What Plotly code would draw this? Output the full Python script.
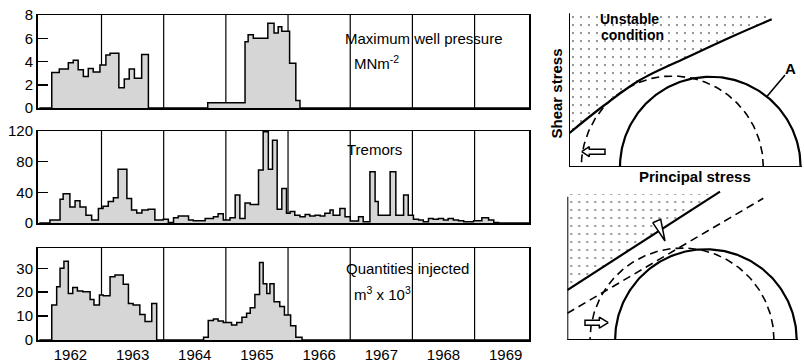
import numpy as np
import plotly.graph_objects as go

# ---------------- data (months counted from Jan 1962) ----------------
year_labels = ["1962", "1963", "1964", "1965", "1966", "1967", "1968", "1969"]
year_bounds = [12, 24, 36, 48, 60, 72, 84]
year_mid = [6, 18, 30, 42, 54, 66, 78, 90]
T_START, T_END = -0.35, 94.5

pressure_t = [0, 2.4, 3.85, 5.6, 6.55, 7.5, 8.5, 9.45, 10.4, 11.7, 12.85, 13.65, 15.35,
              16.4, 17.35, 18.35, 19.75, 21.05, 32.5, 39.7, 40.3, 41.3, 44.1, 45.3, 46.1,
              46.8, 48.3, 49.5, 50.3]
pressure_v = [0, 3.05, 3.35, 3.9, 4.1, 3.3, 2.7, 3.4, 3.1, 3.7, 4.55, 4.7, 1.75,
              2.5, 3.35, 2.55, 4.6, 0, 0.45, 5.7, 6.3, 6.0, 7.3, 6.45, 7.0,
              6.6, 3.85, 0.65, 0]

tremor_t = [0, 2.05, 4.0, 4.6, 5.9, 6.9, 7.85, 9.0, 10.1, 11.4, 12.3, 13.3, 14.3, 15.2,
            16.9, 17.8, 18.8, 19.8, 21.0, 22.3, 23.9, 24.9, 25.9, 26.8, 28.8, 29.7, 32.0,
            33.6, 34.5, 35.5, 36.8, 37.8, 38.7, 39.7, 40.7, 42.3, 43.2, 44.2, 45.0, 45.9,
            46.8, 47.7, 48.4, 49.3, 50.3, 51.3, 52.2, 53.2, 54.2, 55.1, 56.1, 56.7, 58.0,
            59.0, 60.0, 61.6, 62.5, 63.8, 64.8, 65.4, 67.7, 68.8, 70.3, 71.2, 72.2, 73.2,
            74.1, 75.1, 76.0, 77.0, 78.0, 78.9, 79.9, 80.9, 81.9, 83.8, 85.4, 86.7, 87.7, 88.6]
tremor_v = [0, 4, 31, 38, 21, 29, 21, 10, 4, 19, 22, 28, 33, 70,
            32, 17, 13, 17, 18, 4, 5, 0.5, 7, 9, 4, 3, 6,
            8, 12, 4, 7, 36.5, 6, 26, 24, 69, 119, 70, 108, 18,
            45, 12.6, 15, 10, 8, 11, 9, 10, 9, 12.6, 17, 10, 19,
            8, 2.6, 8, 1.7, 67, 28, 10, 67, 10, 36.5, 10, 5, 4,
            1.7, 6, 5, 6, 4, 6, 4, 3, 1.7, 3, 7, 4, 0.5, 0]

inject_t = [0, 2.4, 3.35, 4.0, 4.75, 5.6, 6.45, 7.35, 8.4, 9.8, 10.55, 11.6, 12.35, 13.65,
            14.6, 16.2, 17.2, 18.1, 19.4, 20.4, 21.7, 22.65, 31.7, 32.6, 33.6, 34.5, 35.5,
            37.1, 38.1, 39.1, 40.0, 40.7, 41.6, 42.5, 43.2, 43.9, 44.5, 45.3, 46.4, 47.3,
            48.5, 49.5, 50.7]
inject_v = [0, 14.6, 22.3, 30, 33, 19.5, 22, 20.5, 20.2, 17, 14.6, 18.8, 18.5, 26.5,
            27.2, 23.3, 15.3, 14.6, 10.7, 7.7, 15.3, 0, 1.2, 8.2, 8.8, 8.0, 7.3,
            6.3, 7.3, 9.5, 11.2, 13.5, 19, 32.4, 23.5, 19.5, 23.5, 16, 14, 10.5,
            6, 1.2, 0]

# ---- Mohr diagrams (diagram units) ----
top_envelope_u = [0, 34.3, 71, 121, 164.3, 202.7]
top_envelope_v = [33.7, 61, 87, 111, 131, 147.7]
top_circle_A = (141.3, 90.3)       # centre, radius
top_circle_dashed = (103.3, 91.0)

bot_envelope_u = [0, 152.7]
bot_envelope_v = [50, 148.3]
bot_envelope_shift_u = [0, 196]
bot_envelope_shift_v = [26.7, 141.7]
bot_circle_solid = (138.6, 90.8)
bot_circle_dashed = (114.7, 92.0)

FONT = "Liberation Sans, Arial, sans-serif"
FILL = "#d6d6d6"

fig = go.Figure()


def steps(t, v):
    return list(t) + [T_END], list(v) + [v[-1]]


for (t, v), ax in [((pressure_t, pressure_v), ("x", "y")),
                   ((tremor_t, tremor_v), ("x2", "y2")),
                   ((inject_t, inject_v), ("x3", "y3"))]:
    xs, ys = steps(t, v)
    fig.add_trace(go.Scatter(x=xs, y=ys, mode="lines", line_shape="hv",
                             line=dict(color="black", width=1.5),
                             fill="tozeroy", fillcolor=FILL,
                             xaxis=ax[0], yaxis=ax[1], showlegend=False,
                             hoverinfo="skip"))


def semicircle(c, r, n=160):
    th = np.linspace(0, np.pi, n)
    return c + r * np.cos(th), r * np.sin(th)


def stipple(xs, ys, xa, ya):
    fig.add_trace(go.Scatter(x=xs, y=ys, mode="lines", fill="toself",
                             line=dict(width=0, color="rgba(0,0,0,0)"),
                             fillcolor="white",
                             fillpattern=dict(shape=".", fgcolor="black", bgcolor="white",
                                              size=8, solidity=0.06),
                             xaxis=xa, yaxis=ya, showlegend=False, hoverinfo="skip"))


def line(xs, ys, xa, ya, width=2, dash="solid", shape="linear"):
    fig.add_trace(go.Scatter(x=xs, y=ys, mode="lines", line_shape=shape,
                             line=dict(color="black", width=width, dash=dash),
                             xaxis=xa, yaxis=ya, showlegend=False, hoverinfo="skip"))


def hollow(xs, ys, xa, ya):
    fig.add_trace(go.Scatter(x=xs, y=ys, mode="lines", fill="toself", fillcolor="white",
                             line=dict(color="black", width=1.5),
                             xaxis=xa, yaxis=ya, showlegend=False, hoverinfo="skip"))


# ---- top Mohr diagram ----
stip_u = list(top_envelope_u) + [200, 0]
stip_v = list(top_envelope_v) + [152, 152]
stipple(stip_u, stip_v, "x4", "y4")
cx, cy = semicircle(*top_circle_dashed)
line(cx, cy, "x4", "y4", width=1.6, dash="8px,5px")
cx, cy = semicircle(*top_circle_A)
line(cx, cy, "x4", "y4", width=2.2)
line(top_envelope_u, top_envelope_v, "x4", "y4", width=2.2, shape="spline")
line([0, 0], [0, 153.7], "x4", "y4", width=2)
line([0, 233], [0, 0], "x4", "y4", width=2)
line([197.7, 216], [70.3, 92], "x4", "y4", width=1.6)
hollow([12.7, 20.3, 20.3, 36, 36, 20.3, 20.3, 12.7],
       [15.3, 20.3, 17.8, 17.8, 12.8, 12.8, 10.3, 15.3], "x4", "y4")

# ---- bottom Mohr diagram ----
stipple([0, 149, 0, 0], [50, 146, 146, 50], "x5", "y5")
line(bot_envelope_shift_u, bot_envelope_shift_v, "x5", "y5", width=1.6, dash="8px,5px")
cx, cy = semicircle(*bot_circle_dashed)
line(cx, cy, "x5", "y5", width=1.6, dash="8px,5px")
cx, cy = semicircle(*bot_circle_solid)
line(cx, cy, "x5", "y5", width=2.2)
line(bot_envelope_u, bot_envelope_v, "x5", "y5", width=2.2)
line([0, 0], [0, 143.3], "x5", "y5", width=2)
line([0, 231], [0, 0], "x5", "y5", width=2)
hollow([41, 32, 32, 17.7, 17.7, 32, 32, 41],
       [17.3, 22.8, 19.8, 19.8, 14.8, 14.8, 11.8, 17.3], "x5", "y5")
hollow([85.4, 93.4, 97.7, 85.4], [117.3, 120.7, 99, 117.3], "x5", "y5")

# ---------------- layout ----------------
xdom = [37.5 / 804, 529 / 804]
ydoms = [[256 / 364, 349 / 364], [141 / 364, 233 / 364], [24 / 364, 116 / 364]]
yranges = [[0, 8], [0, 120], [0, 38.5]]
ytickv = [[0, 2, 4, 6, 8], [0, 40, 80, 120], [0, 10, 20, 30]]

layout = dict(width=804, height=364, margin=dict(l=0, r=0, t=0, b=0, autoexpand=False),
              paper_bgcolor="white", plot_bgcolor="white",
              font=dict(family=FONT, size=15, color="black"), showlegend=False)

for i in range(3):
    xn = "xaxis" if i == 0 else f"xaxis{i+1}"
    yn = "yaxis" if i == 0 else f"yaxis{i+1}"
    ya = "y" if i == 0 else f"y{i+1}"
    xa = "x" if i == 0 else f"x{i+1}"
    layout[xn] = dict(domain=xdom, range=[T_START, T_END], anchor=ya, automargin=False,
                      showline=True, mirror=True, linecolor="black", linewidth=1.5,
                      showgrid=False, zeroline=False, ticks="",
                      tickvals=year_mid, ticktext=year_labels,
                      showticklabels=(i == 2), tickfont=dict(size=15))
    layout[yn] = dict(domain=ydoms[i], range=yranges[i], anchor=xa, automargin=False,
                      showline=True, mirror=True, linecolor="black", linewidth=1.5,
                      showgrid=False, zeroline=False, ticks="inside", ticklen=10,
                      tickwidth=1.5, tickcolor="black", tickvals=ytickv[i],
                      tickfont=dict(size=15))

layout["xaxis4"] = dict(domain=[569 / 804, 802 / 804], range=[0, 233], anchor="y4",
                        visible=False, automargin=False)
layout["yaxis4"] = dict(domain=[197 / 364, 351 / 364], range=[0, 154], anchor="x4",
                        visible=False, automargin=False)
layout["xaxis5"] = dict(domain=[567.3 / 804, 798.3 / 804], range=[0, 231], anchor="y5",
                        visible=False, automargin=False)
layout["yaxis5"] = dict(domain=[24 / 364, 174 / 364], range=[0, 150], anchor="x5",
                        visible=False, automargin=False)

shapes = []
for i, ya in enumerate(["y", "y2", "y3"]):
    xa = "x" if i == 0 else f"x{i+1}"
    for b in year_bounds:
        shapes.append(dict(type="line", xref=xa, yref=f"{ya} domain", x0=b, x1=b, y0=0, y1=1,
                           line=dict(color="black", width=1.2), layer="below"))
layout["shapes"] = shapes


def ann(text, x, y, xref, yref, xanchor="left", bold=False, angle=0, size=15):
    return dict(text=f"<b>{text}</b>" if bold else text, x=x, y=y, xref=xref, yref=yref,
                xanchor=xanchor, yanchor="middle", showarrow=False, textangle=angle,
                font=dict(family=FONT, size=size, color="black"))


layout["annotations"] = [
    ann("Maximum well pressure", 58.6, 6.0, "x", "y"),
    ann("MNm<sup>-2</sup>", 60.4, 3.9, "x", "y"),
    ann("Tremors", 64.7, 96.5, "x2", "y2", xanchor="center"),
    ann("Quantities injected", 58.8, 30.1, "x3", "y3"),
    ann("m<sup>3</sup> x 10<sup>3</sup>", 60.4, 19.5, "x3", "y3"),
    ann("Unstable", 29, 147.5, "x4", "y4", bold=True, size=14),
    ann("condition", 30, 132, "x4", "y4", bold=True, size=14),
    ann("Shear stress", 556 / 804, 270.5 / 364, "paper", "paper", xanchor="center",
        bold=True, angle=-90),
    ann("Principal stress", 695 / 804, 187.3 / 364, "paper", "paper", xanchor="center",
        bold=True),
    ann("A", 221, 99, "x4", "y4", xanchor="center", bold=True),
]

fig.update_layout(**layout)
fig.write_html("out.html", config={"displayModeBar": False, "staticPlot": True},
               post_script="document.body.style.margin='0';document.body.style.overflow='hidden';")
